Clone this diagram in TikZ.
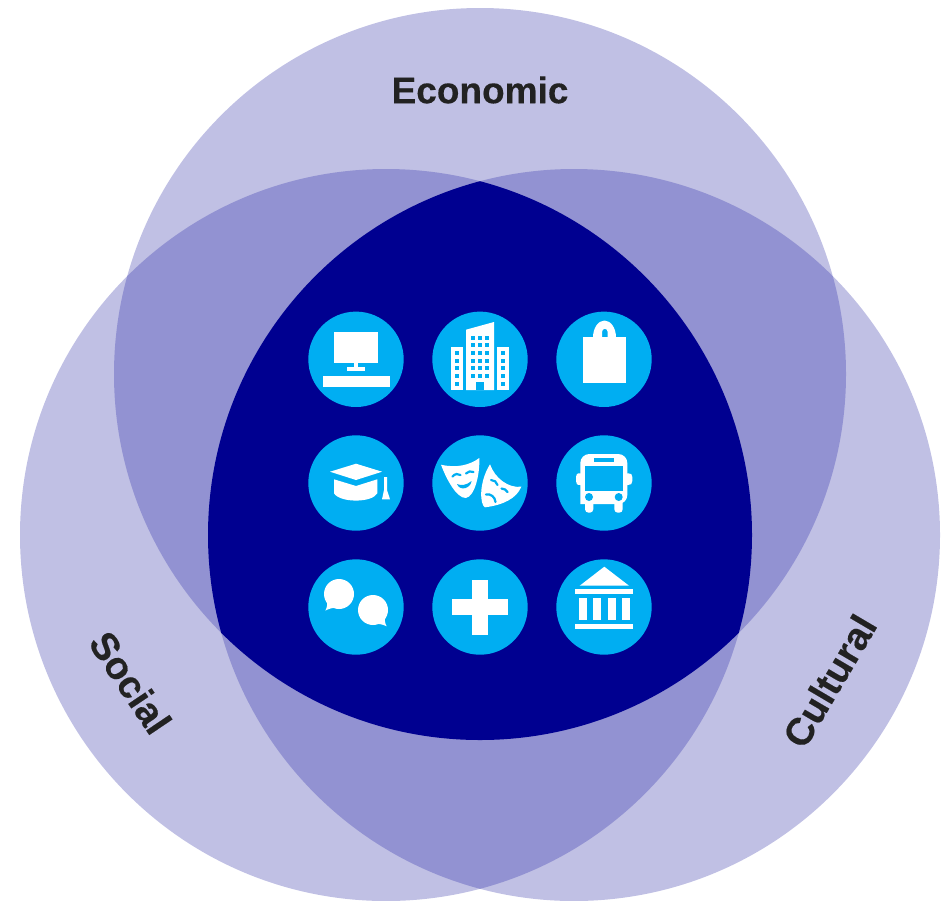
\documentclass[tikz,border=0pt]{standalone}
\usepackage{fontspec}
\setmainfont{Liberation Sans}
\newfontface\labelface[FakeBold=0.35]{Liberation Sans Bold}
\definecolor{vone}{HTML}{C0C0E4}
\definecolor{vtwo}{HTML}{9292D2}
\definecolor{vthree}{HTML}{000090}
\definecolor{discblue}{HTML}{00AEF2}
\definecolor{labelink}{HTML}{222222}
\tikzset{
  disc/.style={circle,fill=discblue,draw=none,minimum size=95.4pt,inner sep=0pt},
  vlabel/.style={font=\labelface\fontsize{37}{37}\selectfont,text=labelink,inner sep=0pt},
  vlabelbig/.style={font=\labelface\fontsize{38.5}{38.5}\selectfont,text=labelink,inner sep=0pt},
  wh/.style={fill=white,draw=none},
  bl/.style={fill=discblue,draw=none},
  blline/.style={draw=discblue,line width=2.2pt,line cap=round,fill=none}
}
\newcommand{\circE}{(480,374) circle (366)}
\newcommand{\circS}{(386,535) circle (366)}
\newcommand{\circC}{(574,535) circle (366)}
\begin{document}
\begin{tikzpicture}[x=1pt,y=-1pt]
\useasboundingbox (0,0) rectangle (949,900);
\begin{scope}
\clip (0,0) rectangle (949,900);
\fill[vone] \circE; \fill[vone] \circS; \fill[vone] \circC;
\begin{scope}\clip \circE; \fill[vtwo] \circS; \fill[vtwo] \circC; \end{scope}
\begin{scope}\clip \circS; \fill[vtwo] \circC; \end{scope}
\begin{scope}\clip \circE; \clip \circS; \fill[vthree] \circC; \end{scope}
\end{scope}
\node[vlabel] (economic) at (480,90) {Economic};
\node[vlabelbig,rotate=-56] (social) at (130.5,682.5) {Social};
\node[vlabelbig,rotate=59.5] (cultural) at (829.5,681) {Cultural};
\foreach \n/\x/\y in {d1/356/359.3,d2/480/359.3,d3/604/359.3,d4/356/483,d5/480/483,d6/604/483,d7/356/607,d8/480/607,d9/604/607}
  \node[disc] (\n) at (\x,\y) {};
% computer
\fill[wh] (333.7,332.3) rectangle (378.3,362.7);
\fill[wh] (354,362.7) rectangle (358.3,367);
\fill[wh] (347.3,366.7) rectangle (365,371);
\fill[wh] (323,376) rectangle (390,387);
% buildings
\fill[wh] (466,329.7) -- (494,322) -- (494,390) -- (466,390) -- cycle;
\fill[wh] (451,347.3) rectangle (462.7,390);
\fill[wh] (497.3,347.3) rectangle (509,390);
\foreach \x in {471,478,485} \foreach \y in {335.7,343.3,351,358.7,366.3,374}
  \fill[bl] (\x,\y) rectangle ++(4,4);
\fill[bl] (476,382) rectangle (484,390);
\foreach \x in {455,501.3} \foreach \y in {351,358.7,366.3,374,381.7}
  \fill[bl] (\x,\y) rectangle ++(4,4);
% bag
\fill[wh] (593,337.5) arc[start angle=180,end angle=0,x radius=11.5,y radius=-17] -- (616,337.5) -- (607.7,337.5) -- (607.7,332) arc[start angle=0,end angle=180,x radius=2.85,y radius=-3.2] -- (602,337.5) -- cycle;
\fill[wh] (583,337) rectangle (626,382.7);
% cap
\fill[wh] (330,471.7) -- (356,463.7) -- (382,471.7) -- (356,480) -- cycle;
\fill[wh] (334,479.3) -- (356,486) -- (377.3,479.3) -- (377.3,493.3) .. controls (372,503) and (340,503) .. (334,493.3) -- cycle;
\fill[wh] (384,477) -- (387,477) -- (387,490) -- (390,499.3) -- (382,499.3) -- (384,490) -- cycle;
% happy mask
\fill[wh] (441,464.7) .. controls (456.7,468.3) and (470,465) .. (479.3,458)
  .. controls (480,473.3) and (475,496.7) .. (465.7,498)
  .. controls (456.7,498) and (446.7,480) .. (441,464.7) -- cycle;
\draw[blline] (452.5,476.5) .. controls (455,473.5) and (458,473.5) .. (460.5,475);
\draw[blline] (466,473.5) .. controls (468,471) and (471,471) .. (473.5,472);
\fill[bl] (457,484) .. controls (461,486) and (467,485) .. (471.5,481) .. controls (471,488) and (460,492) .. (457,484) -- cycle;
% sad mask
\fill[wh] (490,464.3) .. controls (495,478.3) and (508.3,488.3) .. (521.3,486.7)
  .. controls (516.7,498.3) and (503.3,505) .. (485,507.3)
  .. controls (480,505) and (478.3,483.3) .. (490,464.3) -- cycle;
\draw[blline] (491,480) .. controls (494,480) and (497,482) .. (497.5,485);
\draw[blline] (501.5,488.5) .. controls (504,488.5) and (506.5,490) .. (507.5,492);
\draw[blline] (486,494.5) .. controls (491,493.5) and (495,497) .. (495.5,502);
% bus
\fill[wh] (576,477) .. controls (576,474) and (577,473.3) .. (580.3,473.3) -- (628,473.3) .. controls (631,473.3) and (632.3,474) .. (632.3,477) -- (632.3,481) .. controls (632.3,484) and (631,485) .. (628,485) -- (580.3,485) .. controls (577,485) and (576,484) .. (576,481) -- cycle;
\fill[wh,rounded corners=9pt] (580.3,504) -- (580.3,454) -- (627.3,454) -- (627.3,504) [sharp corners] -- cycle;
\fill[wh,rounded corners=3.5pt] (585,500) rectangle (593.3,512.7);
\fill[wh,rounded corners=3.5pt] (614.3,500) rectangle (622.7,512.7);
\fill[bl] (585,466) rectangle (623,491.3);
\fill[bl] (594,457.7) rectangle (614.3,462.3);
\fill[bl] (589,497) circle (4);
\fill[bl] (618.7,497) circle (4);
% chat
\fill[wh] (339,594) circle (15);
\fill[wh] (327,600) .. controls (327.5,604) and (327,608) .. (325.3,610.7) .. controls (329,608.5) and (333,607.5) .. (337,608) -- cycle;
\fill[wh] (373,610) circle (15);
\fill[wh] (385,616) .. controls (384.5,620) and (385,624) .. (386.7,626.3) .. controls (383,624.5) and (379,623.5) .. (375,624) -- cycle;
% plus
\fill[wh] (472,579.7) rectangle (488.3,635);
\fill[wh] (452.3,599) rectangle (507.7,615.3);
% bank
\fill[wh] (604.3,566.7) -- (629,585.7) -- (579.7,585.7) -- cycle;
\fill[wh] (574.7,589) rectangle (633,594);
\foreach \x in {579,593,608,622} \fill[wh] (\x,598) rectangle ++(8,21.7);
\fill[wh] (574.7,624) rectangle (633,629);
\end{tikzpicture}
\end{document}
